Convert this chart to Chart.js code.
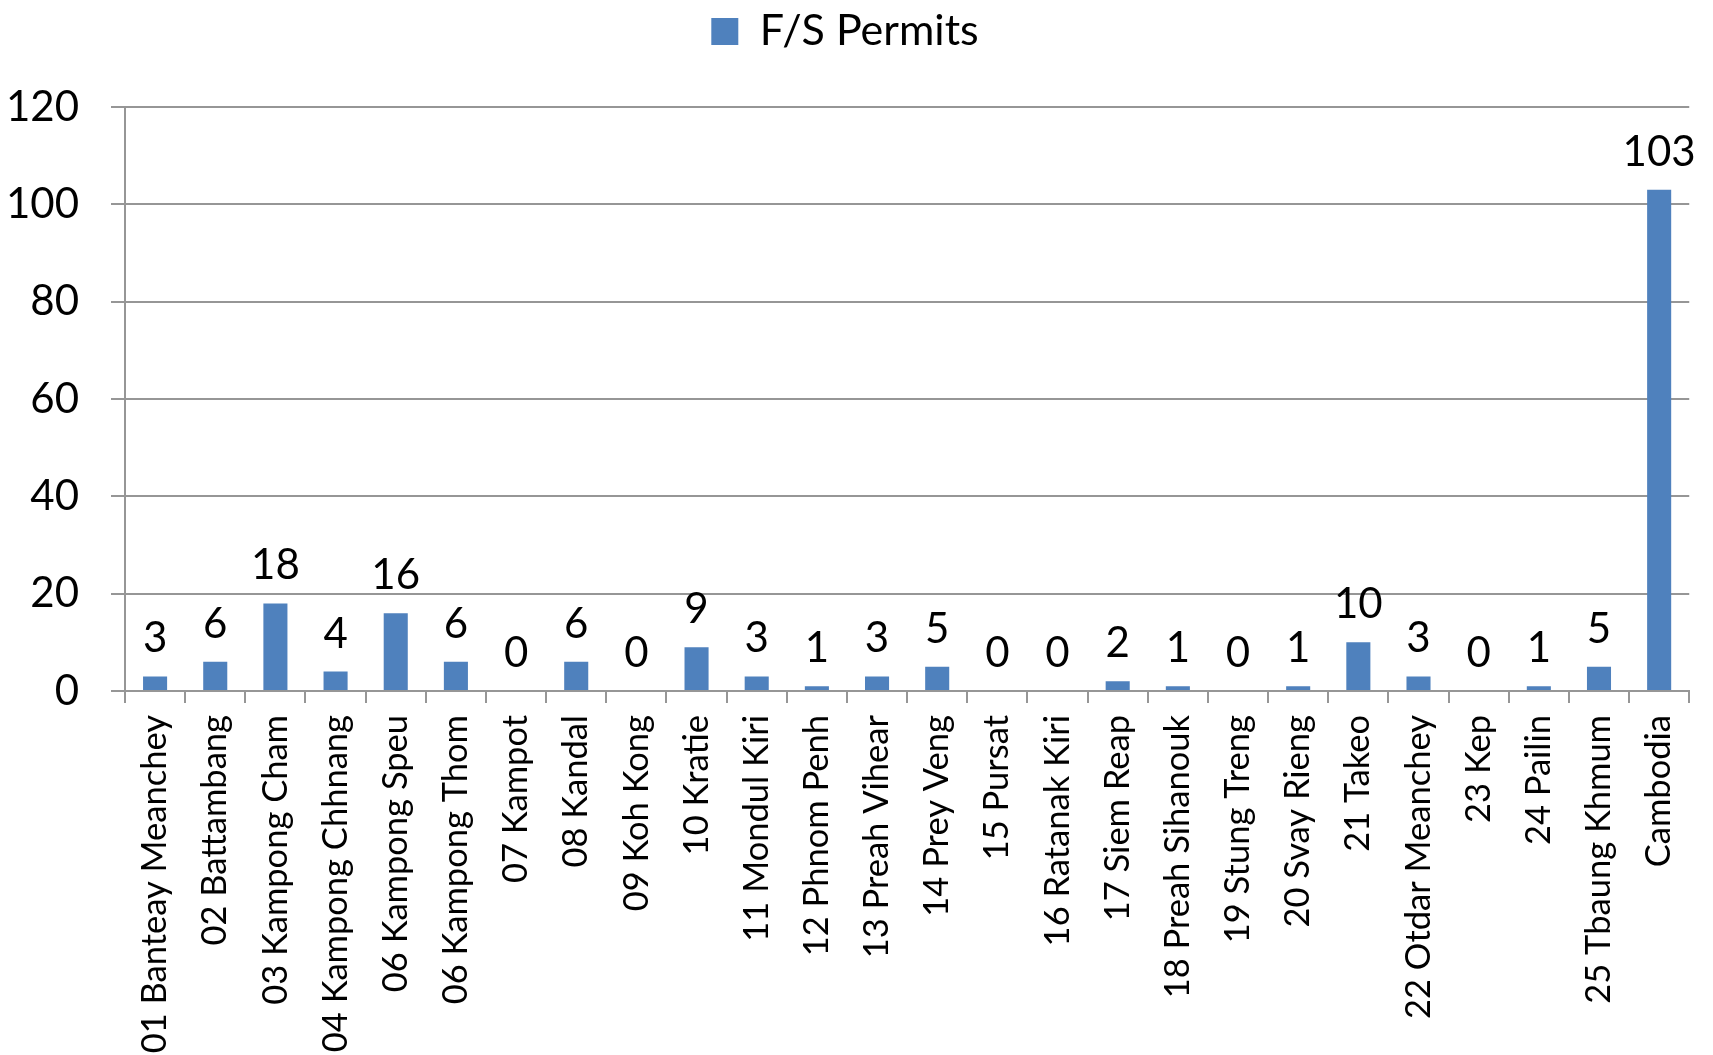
<!DOCTYPE html>
<html>
<head>
<meta charset="utf-8">
<script src="https://cdn.jsdelivr.net/npm/chart.js@4"></script>
<style>
  html, body { margin: 0; padding: 0; background: #fff; }
  #wrap { width: 1713px; height: 1055px; }
</style>
</head>
<body>
<div id="wrap"><canvas id="bar"></canvas></div>
<script>
let provinces = [
  "01 Banteay Meanchey",
  "02 Battambang",
  "03 Kampong Cham",
  "04 Kampong Chhnang",
  "06 Kampong Speu",
  "06 Kampong Thom",
  "07 Kampot",
  "08 Kandal",
  "09 Koh Kong",
  "10 Kratie",
  "11 Mondul Kiri",
  "12 Phnom Penh",
  "13 Preah Vihear",
  "14 Prey Veng",
  "15 Pursat",
  "16 Ratanak Kiri",
  "17 Siem Reap",
  "18 Preah Sihanouk",
  "19 Stung Treng",
  "20 Svay Rieng",
  "21 Takeo",
  "22 Otdar Meanchey",
  "23 Kep",
  "24 Pailin",
  "25 Tbaung Khmum",
  "Cambodia",
];
let permits = [
  3, 6, 18, 4, 16, 6, 0, 6, 0, 9, 3, 1, 3, 5, 0, 0, 2, 1, 0, 1, 10, 3, 0, 1, 5,
  103,
];

Chart.defaults.font.family = "Lato";
Chart.defaults.color = "#000000";

// value above each bar
let valueLabels = {
  id: "valueLabels",
  afterDatasetsDraw(chart) {
    let ctx = chart.ctx;
    ctx.save();
    ctx.font = "42px Lato";
    ctx.fillStyle = "#000000";
    ctx.textAlign = "center";
    ctx.textBaseline = "alphabetic";
    chart.getDatasetMeta(0).data.forEach((bar, i) => {
      ctx.fillText(permits[i], bar.x, bar.y - 24);
    });
    ctx.restore();
  },
};

// extra room under the legend
let legendGap = {
  id: "legendGap",
  beforeInit(chart) {
    let fit = chart.legend.fit;
    chart.legend.fit = function () {
      fit.bind(chart.legend)();
      this.height += 44;
    };
  },
};

let ctx = document.getElementById("bar").getContext("2d");
let bar = new Chart(ctx, {
  type: "bar",
  data: {
    labels: provinces,
    datasets: [
      {
        label: "F/S Permits",
        data: permits,
        backgroundColor: "#4f81bd",
        borderWidth: 0,
        categoryPercentage: 1,
        barPercentage: 0.4,
      },
    ],
  },
  options: {
    responsive: true,
    maintainAspectRatio: false,
    animation: false,
    layout: {
      padding: { left: 0, right: 23, top: 0, bottom: 0 },
    },
    plugins: {
      legend: {
        position: "top",
        labels: {
          boxWidth: 27,
          boxHeight: 27,
          color: "#000000",
          font: { size: 43 },
        },
      },
      tooltip: { enabled: false },
    },
    scales: {
      x: {
        afterFit(axis) {
          axis.height = 364;
        },
        grid: {
          offset: true,
          drawOnChartArea: false,
          drawTicks: true,
          tickLength: 12,
          color: "#969696",
          lineWidth: 2,
        },
        border: { color: "#969696", width: 2 },
        ticks: {
          autoSkip: false,
          minRotation: 90,
          maxRotation: 90,
          padding: 12,
          color: "#000000",
          font: { size: 34.5 },
        },
      },
      y: {
        min: 0,
        max: 120,
        afterFit(axis) {
          axis.width = 125;
        },
        grid: {
          color: "#969696",
          lineWidth: 2,
          tickLength: 14,
        },
        border: { color: "#969696", width: 2 },
        ticks: {
          stepSize: 20,
          padding: 32,
          color: "#000000",
          font: { size: 42 },
        },
      },
    },
  },
  plugins: [valueLabels, legendGap],
});
</script>
</body>
</html>
